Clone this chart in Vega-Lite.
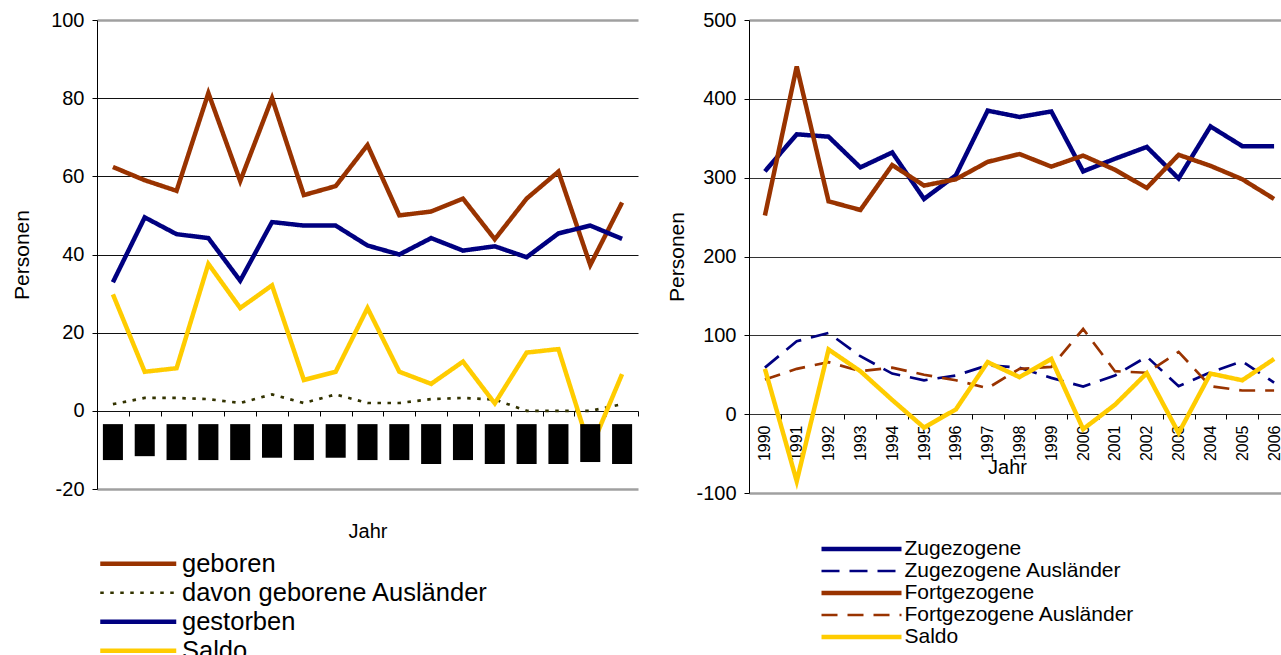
{
  "$schema": "https://vega.github.io/schema/vega-lite/v6.json",
  "padding": {"left": 11, "top": 10, "right": 0, "bottom": 0},
  "background": "white",
  "bounds": "flush",
  "spacing": 111,
  "config": {
    "font": "Liberation Sans",
    "axis": {
      "labelFont": "Liberation Sans",
      "titleFont": "Liberation Sans",
      "labelFontSize": 20,
      "titleFontSize": 21,
      "titleFontWeight": "normal",
      "labelColor": "#000",
      "titleColor": "#000",
      "tickColor": "#000",
      "domainColor": "#000",
      "tickSize": 5
    },
    "legend": {
      "labelFont": "Liberation Sans",
      "labelColor": "#000",
      "labelLimit": 500,
      "padding": 0
    }
  },
  "datasets": {
    "links": [
      {"jahr": "1990", "geboren": 62.4, "davon geborene Ausländer": 1.7, "gestorben": 32.9, "Saldo": 29.8, "von": -3.4, "bis": -12.6},
      {"jahr": "1991", "geboren": 59, "davon geborene Ausländer": 3.3, "gestorben": 49.5, "Saldo": 10, "von": -3.4, "bis": -11.6},
      {"jahr": "1992", "geboren": 56.3, "davon geborene Ausländer": 3.3, "gestorben": 45.2, "Saldo": 10.9, "von": -3.4, "bis": -12.6},
      {"jahr": "1993", "geboren": 81.3, "davon geborene Ausländer": 3, "gestorben": 44.2, "Saldo": 37.6, "von": -3.4, "bis": -12.6},
      {"jahr": "1994", "geboren": 58.8, "davon geborene Ausländer": 2, "gestorben": 33.3, "Saldo": 26.3, "von": -3.4, "bis": -12.6},
      {"jahr": "1995", "geboren": 80, "davon geborene Ausländer": 4.2, "gestorben": 48.3, "Saldo": 32.1, "von": -3.4, "bis": -12},
      {"jahr": "1996", "geboren": 55.2, "davon geborene Ausländer": 2, "gestorben": 47.4, "Saldo": 7.9, "von": -3.4, "bis": -12.6},
      {"jahr": "1997", "geboren": 57.5, "davon geborene Ausländer": 4.2, "gestorben": 47.4, "Saldo": 10, "von": -3.4, "bis": -12},
      {"jahr": "1998", "geboren": 68, "davon geborene Ausländer": 2, "gestorben": 42.3, "Saldo": 26.3, "von": -3.4, "bis": -12.6},
      {"jahr": "1999", "geboren": 50, "davon geborene Ausländer": 2, "gestorben": 40, "Saldo": 10, "von": -3.4, "bis": -12.6},
      {"jahr": "2000", "geboren": 51, "davon geborene Ausländer": 3, "gestorben": 44.2, "Saldo": 6.9, "von": -3.4, "bis": -13.6},
      {"jahr": "2001", "geboren": 54.3, "davon geborene Ausländer": 3.3, "gestorben": 41, "Saldo": 12.6, "von": -3.4, "bis": -12.6},
      {"jahr": "2002", "geboren": 43.9, "davon geborene Ausländer": 2.9, "gestorben": 42.1, "Saldo": 1.9, "von": -3.4, "bis": -13.6},
      {"jahr": "2003", "geboren": 54.3, "davon geborene Ausländer": 0, "gestorben": 39.3, "Saldo": 14.9, "von": -3.4, "bis": -13.6},
      {"jahr": "2004", "geboren": 61.2, "davon geborene Ausländer": 0, "gestorben": 45.4, "Saldo": 15.8, "von": -3.4, "bis": -13.6},
      {"jahr": "2005", "geboren": 37.3, "davon geborene Ausländer": 0, "gestorben": 47.4, "Saldo": -10, "von": -3.4, "bis": -13.1},
      {"jahr": "2006", "geboren": 53.3, "davon geborene Ausländer": 1.7, "gestorben": 44, "Saldo": 9.4, "von": -3.4, "bis": -13.6}
    ],
    "rechts": [
      {"jahr": "1990", "Zugezogene": 308, "Zugezogene Ausländer": 59, "Fortgezogene": 252, "Fortgezogene Ausländer": 44, "Saldo": 57.5},
      {"jahr": "1991", "Zugezogene": 355, "Zugezogene Ausländer": 92.5, "Fortgezogene": 441, "Fortgezogene Ausländer": 57.5, "Saldo": -85},
      {"jahr": "1992", "Zugezogene": 352, "Zugezogene Ausländer": 103, "Fortgezogene": 270, "Fortgezogene Ausländer": 66, "Saldo": 82},
      {"jahr": "1993", "Zugezogene": 313, "Zugezogene Ausländer": 73.5, "Fortgezogene": 259, "Fortgezogene Ausländer": 54.5, "Saldo": 54.5},
      {"jahr": "1994", "Zugezogene": 332, "Zugezogene Ausländer": 51.5, "Fortgezogene": 316, "Fortgezogene Ausländer": 59, "Saldo": 18},
      {"jahr": "1995", "Zugezogene": 273, "Zugezogene Ausländer": 43, "Fortgezogene": 290, "Fortgezogene Ausländer": 50, "Saldo": -17},
      {"jahr": "1996", "Zugezogene": 303, "Zugezogene Ausländer": 49, "Fortgezogene": 298, "Fortgezogene Ausländer": 43, "Saldo": 6},
      {"jahr": "1997", "Zugezogene": 385, "Zugezogene Ausländer": 62, "Fortgezogene": 320, "Fortgezogene Ausländer": 33, "Saldo": 66},
      {"jahr": "1998", "Zugezogene": 377, "Zugezogene Ausländer": 59, "Fortgezogene": 330, "Fortgezogene Ausländer": 57.5, "Saldo": 47},
      {"jahr": "1999", "Zugezogene": 384, "Zugezogene Ausländer": 46, "Fortgezogene": 314, "Fortgezogene Ausländer": 60, "Saldo": 70},
      {"jahr": "2000", "Zugezogene": 308, "Zugezogene Ausländer": 35, "Fortgezogene": 328, "Fortgezogene Ausländer": 108, "Saldo": -19},
      {"jahr": "2001", "Zugezogene": 324, "Zugezogene Ausländer": 49, "Fortgezogene": 310, "Fortgezogene Ausländer": 54.5, "Saldo": 12},
      {"jahr": "2002", "Zugezogene": 339, "Zugezogene Ausländer": 73, "Fortgezogene": 287, "Fortgezogene Ausländer": 52.5, "Saldo": 52},
      {"jahr": "2003", "Zugezogene": 299, "Zugezogene Ausländer": 35.5, "Fortgezogene": 329, "Fortgezogene Ausländer": 79, "Saldo": -24},
      {"jahr": "2004", "Zugezogene": 365, "Zugezogene Ausländer": 53, "Fortgezogene": 315, "Fortgezogene Ausländer": 35.5, "Saldo": 51.5},
      {"jahr": "2005", "Zugezogene": 340, "Zugezogene Ausländer": 67, "Fortgezogene": 298, "Fortgezogene Ausländer": 30, "Saldo": 43},
      {"jahr": "2006", "Zugezogene": 340, "Zugezogene Ausländer": 40, "Fortgezogene": 273, "Fortgezogene Ausländer": 30, "Saldo": 70}
    ]
  },
  "resolve": {
    "scale": {"x": "independent", "y": "independent", "color": "independent", "strokeDash": "independent", "strokeWidth": "independent"},
    "legend": {"color": "independent", "strokeDash": "independent", "strokeWidth": "independent"}
  },
  "hconcat": [
    {
      "width": 541,
      "height": 469,
      "view": {"stroke": null},
      "data": {"name": "links"},
      "layer": [
        {
          "transform": [{"fold": ["geboren", "davon geborene Ausländer", "gestorben", "Saldo"], "as": ["reihe", "wert"]}],
          "mark": {"type": "line"},
          "encoding": {
            "x": {
              "field": "jahr", "type": "ordinal",
              "scale": {"type": "band", "paddingInner": 0, "paddingOuter": 0},
              "axis": {"labels": false, "domain": false, "title": "Jahr", "titleFontSize": 20, "offset": -78, "tickBand": "extent", "titleY": 110, "titleBaseline": "top", "grid": false}
            },
            "y": {
              "field": "wert", "type": "quantitative",
              "scale": {"domain": [-20, 100], "nice": false, "zero": false},
              "axis": {
                "values": [-20, 0, 20, 40, 60, 80, 100],
                "labelExpr": "replace(datum.label, '−', '-')",
                "title": "Personen", "titlePadding": 18, "labelPadding": 8,
                "grid": true,
                "gridColor": {"condition": {"test": "datum.value === 100 || datum.value === -20", "value": "#a0a0a0"}, "value": "#111"},
                "gridWidth": {"condition": {"test": "datum.value === 100 || datum.value === -20", "value": 2.5}, "value": 1}
              }
            },
            "color": {
              "field": "reihe", "type": "nominal",
              "scale": {"domain": ["geboren", "davon geborene Ausländer", "gestorben", "Saldo"], "range": ["#993300", "#333300", "#000080", "#FFCC00"]},
              "legend": {"orient": "none", "legendX": 3, "legendY": 531, "title": null, "symbolType": "M-19,0L19,0", "symbolSize": 16, "symbolOffset": 25.5, "labelFontSize": 25.5, "labelOffset": 31, "rowPadding": 2}
            },
            "strokeDash": {
              "field": "reihe", "type": "nominal",
              "scale": {"domain": ["geboren", "davon geborene Ausländer", "gestorben", "Saldo"], "range": [[1, 0], [3.5, 6.5], [1, 0], [1, 0]]},
              "legend": {"orient": "none", "legendX": 3, "legendY": 531, "title": null, "symbolType": "M-19,0L19,0", "symbolSize": 16, "symbolOffset": 25.5, "labelFontSize": 25.5, "labelOffset": 31, "rowPadding": 2}
            },
            "strokeWidth": {
              "field": "reihe", "type": "nominal",
              "scale": {"type": "ordinal", "domain": ["geboren", "davon geborene Ausländer", "gestorben", "Saldo"], "range": [4.5, 2.7, 4.5, 4.5]},
              "legend": {"orient": "none", "legendX": 3, "legendY": 531, "title": null, "symbolType": "M-19,0L19,0", "symbolSize": 16, "symbolOffset": 25.5, "labelFontSize": 25.5, "labelOffset": 31, "rowPadding": 2}
            }
          }
        },
        {
          "mark": {"type": "bar", "color": "#000", "width": {"band": 0.63}},
          "encoding": {
            "x": {"field": "jahr", "type": "ordinal"},
            "y": {"field": "von", "type": "quantitative"},
            "y2": {"field": "bis"}
          }
        }
      ]
    },
    {
      "width": 532,
      "height": 473,
      "view": {"stroke": null},
      "data": {"name": "rechts"},
      "transform": [{"fold": ["Zugezogene", "Zugezogene Ausländer", "Fortgezogene", "Fortgezogene Ausländer", "Saldo"], "as": ["serie", "wert"]}],
      "mark": {"type": "line"},
      "encoding": {
        "x": {
          "field": "jahr", "type": "ordinal",
          "scale": {"type": "band", "paddingInner": 0, "paddingOuter": 0, "rangeMax": 541},
          "axis": {"labelAngle": -90, "labelFontSize": 16, "labelPadding": 6, "domain": false, "title": "Jahr", "titleFontSize": 20, "offset": -79, "tickOffset": -15.9, "labelOffset": 15.9, "titleY": 43, "titleX": 258, "titleBaseline": "top", "titleAnchor": "middle", "grid": false}
        },
        "y": {
          "field": "wert", "type": "quantitative",
          "scale": {"domain": [-100, 500], "nice": false, "zero": false},
          "axis": {
            "values": [-100, 0, 100, 200, 300, 400, 500],
            "labelExpr": "replace(datum.label, '−', '-')",
            "title": "Personen", "titlePadding": 8, "labelPadding": 8,
            "grid": true,
            "gridColor": {"condition": {"test": "datum.value === 500 || datum.value === -100", "value": "#a0a0a0"}, "value": "#333"},
            "gridWidth": {"condition": {"test": "datum.value === 500 || datum.value === -100", "value": 2.5}, "value": 1}
          }
        },
        "color": {
          "field": "serie", "type": "nominal",
          "scale": {"domain": ["Zugezogene", "Zugezogene Ausländer", "Fortgezogene", "Fortgezogene Ausländer", "Saldo"], "range": ["#000080", "#000080", "#993300", "#993300", "#FFCC00"]},
          "legend": {"orient": "none", "legendX": 74, "legendY": 518.5, "title": null, "symbolType": "M-20,0L20,0", "symbolSize": 16, "symbolOffset": 28, "labelFontSize": 21, "labelOffset": 32.5, "rowPadding": 0}
        },
        "strokeDash": {
          "field": "serie", "type": "nominal",
          "scale": {"domain": ["Zugezogene", "Zugezogene Ausländer", "Fortgezogene", "Fortgezogene Ausländer", "Saldo"], "range": [[1, 0], [18, 10], [1, 0], [16, 10], [1, 0]]},
          "legend": {"orient": "none", "legendX": 74, "legendY": 518.5, "title": null, "symbolType": "M-20,0L20,0", "symbolSize": 16, "symbolOffset": 28, "labelFontSize": 21, "labelOffset": 32.5, "rowPadding": 0}
        },
        "strokeWidth": {
          "field": "serie", "type": "nominal",
          "scale": {"type": "ordinal", "domain": ["Zugezogene", "Zugezogene Ausländer", "Fortgezogene", "Fortgezogene Ausländer", "Saldo"], "range": [4.5, 2.7, 4.5, 2.7, 4.5]},
          "legend": {"orient": "none", "legendX": 74, "legendY": 518.5, "title": null, "symbolType": "M-20,0L20,0", "symbolSize": 16, "symbolOffset": 28, "labelFontSize": 21, "labelOffset": 32.5, "rowPadding": 0}
        }
      }
    }
  ]
}
